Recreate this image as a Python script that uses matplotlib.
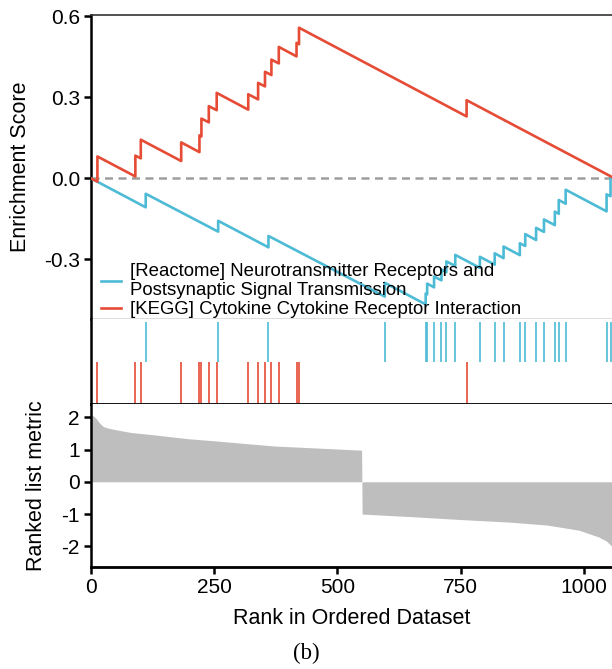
import matplotlib
matplotlib.use("Agg")
import matplotlib.pyplot as plt

plt.rcParams['font.family'] = ['Liberation Sans', 'DejaVu Sans']

n_genes = 1057

# KEGG Cytokine-cytokine receptor interaction: hit ranks and running ES around each hit
kegg_label = "[KEGG] Cytokine Cytokine Receptor Interaction"
kegg_hits = [13, 90, 101, 183, 220, 224, 239, 255, 319, 339, 353, 366, 381, 417, 422, 762]
kegg_es_before = [-0.012, 0.007, 0.074, 0.064, 0.097, 0.155, 0.207, 0.252, 0.254,
                  0.292, 0.340, 0.382, 0.425, 0.451, 0.496, 0.229]
kegg_es_after = [0.081, 0.084, 0.143, 0.133, 0.159, 0.221, 0.267, 0.316, 0.311,
                 0.353, 0.394, 0.439, 0.486, 0.501, 0.557, 0.289]
kegg_es_end = 0.005

# Reactome neurotransmitter receptors set
reactome_label = "[Reactome] Neurotransmitter Receptors and\nPostsynaptic Signal Transmission"
reactome_hits = [111, 258, 360, 596, 679, 682, 696, 711, 721, 739, 789, 819, 837,
                 870, 881, 903, 919, 941, 949, 963, 1046, 1054]
reactome_es_before = [-0.107, -0.197, -0.255, -0.437, -0.466, -0.429, -0.403, -0.377,
                      -0.347, -0.324, -0.331, -0.319, -0.295, -0.284, -0.250, -0.228,
                      -0.198, -0.173, -0.131, -0.094, -0.122, -0.066]
reactome_es_after = [-0.057, -0.157, -0.213, -0.386, -0.426, -0.389, -0.363, -0.337,
                     -0.307, -0.283, -0.290, -0.277, -0.252, -0.240, -0.206, -0.183,
                     -0.152, -0.123, -0.080, -0.042, -0.059, 0.003]
reactome_es_end = 0.0

# Ranked list metric outline
metric_rank = [0, 10, 18, 25, 35, 55, 80, 130, 200, 250, 370, 549,
               550, 650, 750, 850, 925, 990, 1030, 1045, 1057]
metric_value = [2.10, 1.97, 1.81, 1.71, 1.66, 1.60, 1.53, 1.45, 1.33, 1.27, 1.11, 0.98,
                -1.0, -1.08, -1.17, -1.25, -1.34, -1.50, -1.71, -1.83, -2.0]

RED = "#E64B35"
BLUE = "#4DBBD5"


def es_path(hits, before, after, end):
    xs, ys = [0], [0.0]
    for h, b, a in zip(hits, before, after):
        xs += [h, h]
        ys += [b, a]
    xs.append(n_genes)
    ys.append(end)
    return xs, ys


W, H = 612, 669
fig = plt.figure(figsize=(W / 100, H / 100), dpi=100)
left = 91 / W
width = 1 - left


def box(top_px, bottom_px):
    return [left, (H - bottom_px) / H, width, (bottom_px - top_px) / H]


ax_es = fig.add_axes(box(15, 319))
ax_rug = fig.add_axes(box(319, 404))
ax_met = fig.add_axes(box(404, 567))

tick_fs = 15
label_fs = 15.5

# --- enrichment score panel ---
ax_es.axhline(0, color="#9E9E9E", lw=1.8, ls=(0, (3.2, 2.2)), zorder=1)
bx, by = es_path(reactome_hits, reactome_es_before, reactome_es_after, reactome_es_end)
rx, ry = es_path(kegg_hits, kegg_es_before, kegg_es_after, kegg_es_end)
ax_es.plot(bx, by, color=BLUE, lw=1.9, label=reactome_label, zorder=3)
ax_es.plot(rx, ry, color=RED, lw=1.9, label=kegg_label, zorder=3)
ax_es.set_xlim(0, n_genes)
ax_es.set_ylim(-0.52, 0.604)
ax_es.set_yticks([0.6, 0.3, 0.0, -0.3])
ax_es.set_yticklabels(["0.6", "0.3", "0.0", "-0.3"])
ax_es.set_xticks([])
ax_es.set_ylabel("Enrichment Score", fontsize=label_fs, labelpad=9)
leg = ax_es.legend(loc="lower left", bbox_to_anchor=(0.012, -0.01), frameon=False,
                   fontsize=13.4, handlelength=1.1, handletextpad=0.45,
                   labelspacing=0.1, borderpad=0.2, borderaxespad=0.0)
for t in leg.get_texts():
    t.set_linespacing(1.17)

# --- hit rug panel ---
ax_rug.vlines(reactome_hits, 0.5, 0.96, color=BLUE, lw=1.2)
ax_rug.vlines(kegg_hits, 0.01, 0.5, color=RED, lw=1.2)
ax_rug.set_xlim(0, n_genes)
ax_rug.set_ylim(0, 1)
ax_rug.set_xticks([])
ax_rug.set_yticks([])

# --- ranked metric panel ---
ax_met.fill_between(metric_rank, metric_value, 0, color="#BEBEBE", lw=0)
ax_met.set_xlim(0, n_genes)
ax_met.set_ylim(-2.64, 2.41)
ax_met.set_yticks([2, 1, 0, -1, -2])
ax_met.set_yticklabels(["2", "1", "0", "-1", "-2"])
ax_met.set_xticks([0, 250, 500, 750, 1000])
ax_met.set_ylabel("Ranked list metric", fontsize=label_fs, labelpad=10)
ax_met.set_xlabel("Rank in Ordered Dataset", fontsize=label_fs, labelpad=8)

for ax in (ax_es, ax_rug, ax_met):
    ax.spines["right"].set_visible(False)
    ax.spines["left"].set_linewidth(1.8)
    ax.spines["left"].set_color("black")
    ax.tick_params(axis="both", direction="out", length=5, width=1.8,
                   labelsize=tick_fs, color="black", pad=3)

ax_es.spines["top"].set_linewidth(1.2)
ax_es.spines["top"].set_color("#333333")
ax_es.spines["bottom"].set_linewidth(1.0)
ax_es.spines["bottom"].set_color("#555555")
ax_rug.spines["top"].set_visible(False)
ax_rug.spines["bottom"].set_linewidth(2.0)
ax_rug.spines["bottom"].set_color("black")
ax_met.spines["top"].set_visible(False)
ax_met.spines["bottom"].set_linewidth(2.0)
ax_met.spines["bottom"].set_color("black")

fig.text(0.5, 1 - 653 / H, "(b)", ha="center", va="center", fontsize=16.5,
         family=["Liberation Serif", "DejaVu Serif"])

fig.savefig("out.png", dpi=100)
